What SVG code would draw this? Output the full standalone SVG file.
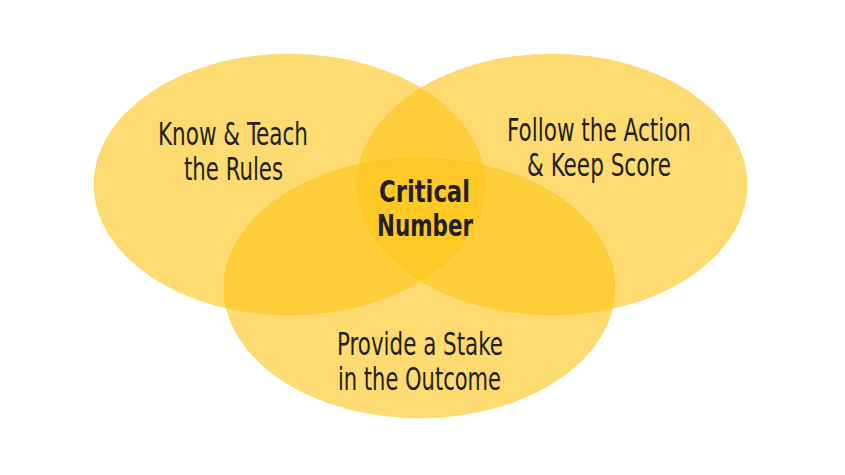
<svg xmlns="http://www.w3.org/2000/svg" width="845" height="475" viewBox="0 0 845 475">
  <style>
    .c { fill: #FDC61C; fill-opacity: 0.63; stroke: #F2B705; stroke-opacity: 0.25; stroke-width: 1; }
    .t { font-family: "DejaVu Sans Condensed", "DejaVu Sans", sans-serif; font-stretch: condensed; font-size: 32px; fill: #231F20; text-anchor: middle; }
    .b { font-weight: bold; font-size: 31px; }
  </style>
  <rect width="845" height="475" fill="#FFFFFF"/>
  <g id="know-teach">
    <ellipse class="c" cx="289.5" cy="184.5" rx="195.5" ry="130.5"/>
  </g>
  <g id="follow-action">
    <ellipse class="c" cx="552" cy="184.5" rx="195" ry="130.5"/>
  </g>
  <g id="provide-stake">
    <ellipse class="c" cx="419.5" cy="288" rx="195.5" ry="130"/>
  </g>
  <g id="labels">
    <text class="t" x="233" y="145" textLength="150" lengthAdjust="spacingAndGlyphs">Know &amp; Teach</text>
    <text class="t" x="233.5" y="180" textLength="99" lengthAdjust="spacingAndGlyphs">the Rules</text>
    <text class="t" x="599" y="141" textLength="184" lengthAdjust="spacingAndGlyphs">Follow the Action</text>
    <text class="t" x="599" y="176" textLength="144" lengthAdjust="spacingAndGlyphs">&amp; Keep Score</text>
    <text class="t" x="420" y="355" textLength="166" lengthAdjust="spacingAndGlyphs">Provide a Stake</text>
    <text class="t" x="419.5" y="390" textLength="163" lengthAdjust="spacingAndGlyphs">in the Outcome</text>
  </g>
  <g id="critical-number">
    <text class="t b" x="424.5" y="202" textLength="91" lengthAdjust="spacingAndGlyphs">Critical</text>
    <text class="t b" x="425" y="236" textLength="96" lengthAdjust="spacingAndGlyphs">Number</text>
  </g>
</svg>
